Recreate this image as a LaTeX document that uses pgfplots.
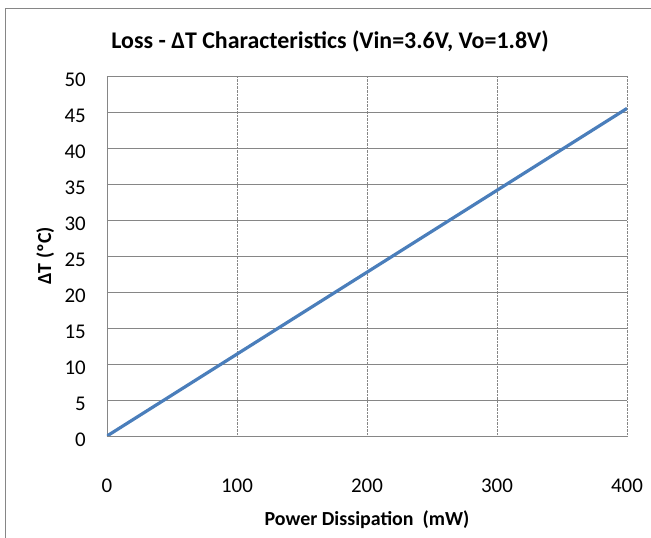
\documentclass[border=0pt]{standalone}
\usepackage{fontspec}
\setmainfont{Carlito}
\usepackage{pgfplots}
\pgfplotsset{compat=1.18}
\definecolor{lineblue}{RGB}{74,126,187}
\definecolor{gridgray}{RGB}{134,134,134}
\begin{document}
\begin{tikzpicture}[x=1bp,y=1bp]
\useasboundingbox (-107,-102) rectangle (544,436);
\draw[gridgray, line width=1bp] (-101,-110) -- (-101,427) -- (560,427);
\begin{axis}[
  at={(0,0)}, anchor=origin,
  scale only axis, width=520bp, height=360bp,
  xmin=0, xmax=400, ymin=0, ymax=50,
  xtick={0,100,200,300,400}, ytick={0,5,...,50},
  axis lines*=left,
  axis line style={gridgray, line width=0.8bp, -},
  major tick length=0pt,
  grid=major,
  x grid style={gridgray, densely dotted, line width=0.8bp},
  y grid style={gridgray, line width=0.8bp},
  /pgf/number format/assume math mode=true,
  tick label style={font=\fontsize{21}{24}\selectfont},
  x tick label style={anchor=base, yshift=-56bp},
  y tick label style={anchor=east, inner sep=0pt, xshift=-21bp, yshift=-3.5bp},
  xlabel={\textbf{Power Dissipation\ \ (mW)}},
  xlabel style={font=\fontsize{20}{24}\selectfont, at={(rel axis cs:0.5,0)}, anchor=base, yshift=-89bp},
  ylabel={\textbf{ΔT (ºC)}},
  ylabel style={font=\fontsize{20}{24}\selectfont, at={(axis description cs:-0.119,0.5)}, anchor=center},
  title={\textbf{Loss - ΔT Characteristics (Vin=3.6V, Vo=1.8V)}},
  title style={font=\fontsize{24}{27}\selectfont, at={(rel axis cs:0.429,1)}, anchor=base, yshift=22bp},
]
\addplot[lineblue, line width=3.2bp] coordinates {(0,0) (400,45.5)};
\end{axis}
\end{tikzpicture}
\end{document}
